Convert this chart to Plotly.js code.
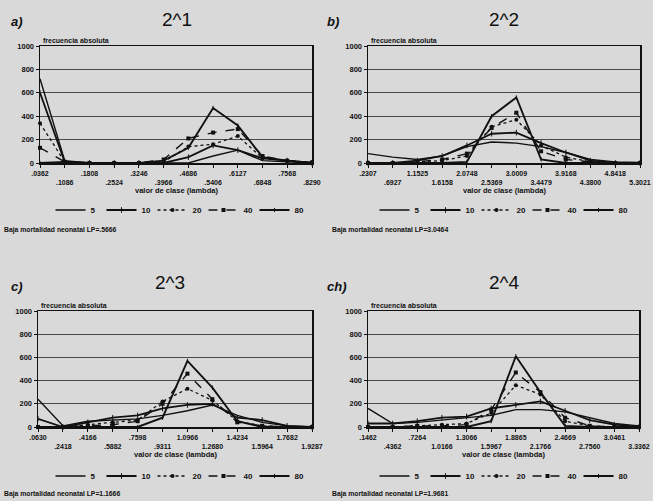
<!DOCTYPE html>
<html><head><meta charset="utf-8">
<script src="https://cdn.plot.ly/plotly-3.0.1.min.js"></script>
<style>html,body{margin:0;padding:0;background:#d9d9d9}#c{width:653px;height:501px}</style>
</head><body><div id="c"></div>
<script>
// category indices and tick labels
const idx = [0,1,2,3,4,5,6,7,8,9,10,11];
const ticksA = [".0362",".1086",".1808",".2524",".3246",".3966",".4686",".5406",".6127",".6848",".7568",".8290"];
const ticksB = [".2307",".6927","1.1525","1.6158","2.0748","2.5369","3.0009","3.4479","3.9168","4.3800","4.8418","5.3021"];
const ticksC = [".0630",".2418",".4166",".5882",".7598",".9311","1.0966","1.2680","1.4234","1.5964","1.7682","1.9287"];
const ticksD = [".1462",".4362",".7264","1.0166","1.3066","1.5967","1.8865","2.1766","2.4669","2.7560","3.0461","3.3362"];
const seriesNames = ["5","10","20","40","80"];
const yTicks = [0,200,400,600,800,1000];

// panel a) 2^1
const a5  = [720,20,0,0,0,0,0,60,110,20,10,0];
const a10 = [600,10,0,0,0,0,50,150,110,40,20,0];
const a20 = [340,10,0,0,0,10,140,160,230,40,20,5];
const a40 = [130,10,0,0,0,30,210,260,290,60,20,5];
const a80 = [0,10,0,0,0,20,130,470,320,50,20,0];
// panel b) 2^2
const b5  = [80,50,30,60,140,180,170,140,90,30,10,5];
const b10 = [0,0,20,60,150,250,260,170,90,20,0,0];
const b20 = [0,0,10,20,60,310,370,150,50,10,0,0];
const b40 = [0,0,10,30,80,300,430,100,30,10,0,0];
const b80 = [0,0,0,0,10,400,560,30,0,0,0,0];
// panel c) 2^3
const c5  = [240,10,50,60,70,100,140,190,100,40,10,0];
const c10 = [70,0,40,80,100,160,190,200,80,60,10,0];
const c20 = [0,0,20,40,60,220,330,230,50,10,0,0];
const c40 = [0,0,10,20,50,200,460,240,40,10,0,0];
const c80 = [0,0,0,0,0,80,570,340,50,0,0,0];
// panel ch) 2^4
const d5  = [160,30,40,60,80,100,150,150,130,80,30,10];
const d10 = [30,30,50,80,90,160,190,220,140,60,20,0];
const d20 = [0,0,10,20,30,120,360,280,50,10,0,0];
const d40 = [0,0,10,10,20,150,470,300,80,10,0,0];
const d80 = [0,0,0,0,0,50,610,300,10,0,0,0];

const panels = [
  {ser:[a5,a10,a20,a40,a80], ticks:ticksA, label:"a)",  title:"2^1", note:"Baja mortalidad neonatal LP=.5666"},
  {ser:[b5,b10,b20,b40,b80], ticks:ticksB, label:"b)",  title:"2^2", note:"Baja mortalidad neonatal LP=3.0464"},
  {ser:[c5,c10,c20,c40,c80], ticks:ticksC, label:"c)",  title:"2^3", note:"Baja mortalidad neonatal LP=1.1666"},
  {ser:[d5,d10,d20,d40,d80], ticks:ticksD, label:"ch)", title:"2^4", note:"Baja mortalidad neonatal LP=1.9681"}
];

const W = 653, H = 501;
const fx = p => p / W, fy = p => 1 - p / H;
// plot boxes in pixels: [left, right, top, bottom]
const boxes = [[40,312,46,163],[368,640,46,163],[38,312,311,427],[368,639,311,427]];
const legendPos = [[178,210],[502,210],[178,476],[502,476]];
const titlePos = [[177,19],[504,19],[170,282],[504,282]];

const styles = [
  {mode:"lines", line:{color:"#111",width:1.4}},
  {mode:"lines+markers", line:{color:"#111",width:1.8}, marker:{symbol:"line-ns-open",size:4,color:"#111",line:{width:1,color:"#111"}}},
  {mode:"lines+markers", line:{color:"#111",width:1.3,dash:"dot"}, marker:{symbol:"circle",size:4,color:"#111"}},
  {mode:"lines+markers", line:{color:"#111",width:1.4,dash:"dash"}, marker:{symbol:"square",size:4,color:"#111"}},
  {mode:"lines+markers", line:{color:"#111",width:1.9}, marker:{symbol:"line-ns-open",size:3,color:"#111",line:{width:1,color:"#111"}}}
];

const FONT = "Liberation Sans, Arial, sans-serif";
const data = [];
const layout = {
  width: W, height: H, margin:{l:0,r:0,t:0,b:0},
  paper_bgcolor:"#d9d9d9", plot_bgcolor:"#d9d9d9",
  font:{family:FONT, color:"#111"},
  annotations: [], showlegend:true
};

panels.forEach((p, i) => {
  const n = i === 0 ? "" : String(i + 1);
  const b = boxes[i];
  const legName = "legend" + n;
  p.ser.forEach((vals, s) => {
    data.push(Object.assign({
      type:"scatter", x: idx, y: vals, name: seriesNames[s],
      xaxis:"x"+n, yaxis:"y"+n, legend: legName, cliponaxis:false
    }, JSON.parse(JSON.stringify(styles[s]))));
  });
  const tt = p.ticks.map((t, k) => k % 2 === 0 ? t : "<br>" + t);
  layout["xaxis"+n] = {
    domain:[fx(b[0]), fx(b[1])], anchor:"y"+n, range:[0,11],
    tickmode:"array", tickvals: idx, ticktext: tt, tickangle:0,
    ticks:"outside", ticklen:3, tickcolor:"#111",
    tickfont:{size:7, weight:"bold", family:FONT, color:"#111"},
    showline:true, mirror:true, linecolor:"#111", linewidth:1.5,
    showgrid:false, zeroline:false, fixedrange:true
  };
  layout["yaxis"+n] = {
    domain:[fy(b[3]), fy(b[2])], anchor:"x"+n, range:[0,1000],
    tickmode:"array", tickvals: yTicks, ticktext: yTicks.map(String),
    ticks:"outside", ticklen:3, tickcolor:"#111",
    tickfont:{size:7.5, weight:"bold", family:FONT, color:"#111"},
    showline:true, mirror:true, linecolor:"#111", linewidth:1.5,
    showgrid:true, gridcolor:"#4a4a4a", gridwidth:1, zeroline:false, fixedrange:true
  };
  layout[legName] = {
    orientation:"h", x: fx(legendPos[i][0]), y: fy(legendPos[i][1]),
    xanchor:"center", yanchor:"middle", bgcolor:"rgba(0,0,0,0)",
    font:{size:8, weight:"bold", family:FONT, color:"#111"},
    itemwidth:30, entrywidth:6, tracegroupgap:0
  };
  const cx = (b[0] + b[1]) / 2;
  layout.annotations.push(
    {text:p.title, x:fx(titlePos[i][0]), y:fy(titlePos[i][1]), xref:"paper", yref:"paper", showarrow:false,
     xanchor:"center", yanchor:"middle", font:{size:19, family:FONT, color:"#111"}},
    {text:"<b><i>"+p.label+"</i></b>", x:fx(i%2===0 ? 9 : 325), y:fy(b[2]-25), xref:"paper", yref:"paper", showarrow:false,
     xanchor:"left", yanchor:"middle", font:{size:13, family:FONT, color:"#111"}},
    {text:"frecuencia absoluta", x:fx(b[0]+1), y:fy(b[2]-6), xref:"paper", yref:"paper", showarrow:false,
     xanchor:"left", yanchor:"middle", font:{size:7, weight:"bold", family:FONT, color:"#111"}},
    {text:"valor de clase (lambda)", x:fx(cx), y:fy(b[3]+27), xref:"paper", yref:"paper", showarrow:false,
     xanchor:"center", yanchor:"middle", font:{size:7.5, weight:"bold", family:FONT, color:"#111"}},
    {text:p.note, x:fx(i%2===0 ? 2 : 330), y:fy(b[3]+67), xref:"paper", yref:"paper", showarrow:false,
     xanchor:"left", yanchor:"middle", font:{size:6.8, weight:"bold", family:FONT, color:"#111"}}
  );
});

Plotly.newPlot("c", data, layout, {displayModeBar:false, staticPlot:true});
</script></body></html>
